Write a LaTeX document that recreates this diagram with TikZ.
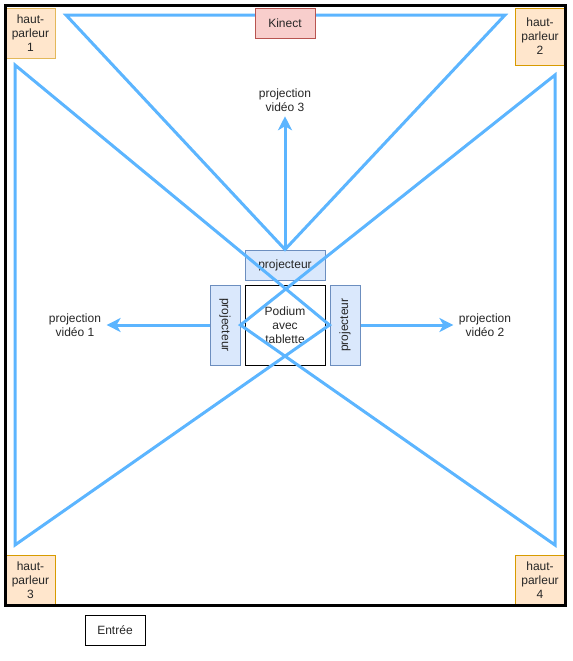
\documentclass[tikz,border=0pt]{standalone}
\usepackage{fontspec}
\setmainfont{Liberation Sans}
\usepackage{xcolor}
\usetikzlibrary{shapes,positioning,arrows.meta}
\definecolor{beam}{HTML}{5CB5FF}
\definecolor{spkfill}{HTML}{FFE6CC}
\definecolor{spkdraw}{HTML}{D79B00}
\definecolor{spkpale}{HTML}{E3B85A}
\definecolor{projfill}{HTML}{DAE8FC}
\definecolor{projdraw}{HTML}{6C8EBF}
\definecolor{kinfill}{HTML}{F8CECC}
\definecolor{kindraw}{HTML}{B85450}
\tikzset{box/.style={rectangle,draw,line width=0.75pt,align=center,inner sep=0pt,text=black!85,font=\fontsize{9}{10.5}\selectfont}}
\tikzset{spk/.style={box,fill=spkfill,draw=spkdraw,minimum width=37.5pt}}
\tikzset{proj/.style={box,fill=projfill,draw=projdraw,minimum width=60pt,minimum height=22.5pt}}
\tikzset{lab/.style={align=center,inner sep=0pt,minimum width=47pt,minimum height=24pt,text=black!85,font=\fontsize{9}{10.5}\selectfont}}
\tikzset{ray/.style={beam,line width=2.25pt,miter limit=10}}
\begin{document}
\begin{tikzpicture}[>={Stealth[length=10.5pt,width=10.5pt,inset=3pt]},x=0.75pt,y=-0.75pt]
        \useasboundingbox (0,0) rectangle (572,661);
        \node[spk,minimum height=37.5pt,draw=spkpale] (s1) at (30.5,33) {haut-\\parleur\\1};
        \node[spk,minimum height=42.75pt] (s2) at (540,36.5) {haut-\\parleur\\2};
        \node[spk,minimum height=37.5pt] (s3) at (30.5,580) {haut-\\parleur\\3};
        \node[spk,minimum height=37.5pt] (s4) at (540,580) {haut-\\parleur\\4};
        \node[proj] (p3) at (285,265) {projecteur};
        \node[proj,rotate=-90] (p1) at (225,325) {projecteur};
        \node[proj,rotate=90] (p2) at (345,325) {projecteur};
        \node[box,draw=black,minimum width=60pt,minimum height=60pt] (t) at (285,325) {Podium\\avec\\tablette};
        \node[box,draw=black,minimum width=45pt,minimum height=22.5pt] (e) at (115,630) {Entrée};
        \node[lab] (v1) at (75,325) {projection\\vidéo 1};
        \node[lab] (v2) at (485,325) {projection\\vidéo 2};
        \node[lab] (v3) at (285,100) {projection\\vidéo 3};

        \coordinate (a) at (66,15);
        \coordinate (b) at (505,15);
        \coordinate (c) at (15,65);
        \coordinate (d) at (15,545);
        \coordinate (f) at (555,75);
        \coordinate (g) at (555,545);

        \draw [black,line width=2.25pt] (5,5) rectangle (565,605);
        \draw [ray] (a) -- (b) -- (p3.north) -- cycle;
        \draw [ray] (c) -- (p2.north) -- (d) -- cycle;
        \draw [ray] (f) -- (p1.north) -- (g) -- cycle;
        \draw [ray,->] (p3.north) -- (v3);
        \draw [ray,->] (p1.south) -- (v1);
        \draw [ray,->] (p2.south) -- (v2);
        \node[box,fill=kinfill,draw=kindraw,minimum width=45pt,minimum height=22.5pt] (k) at (285,23) {Kinect};
    \end{tikzpicture}
\end{document}
